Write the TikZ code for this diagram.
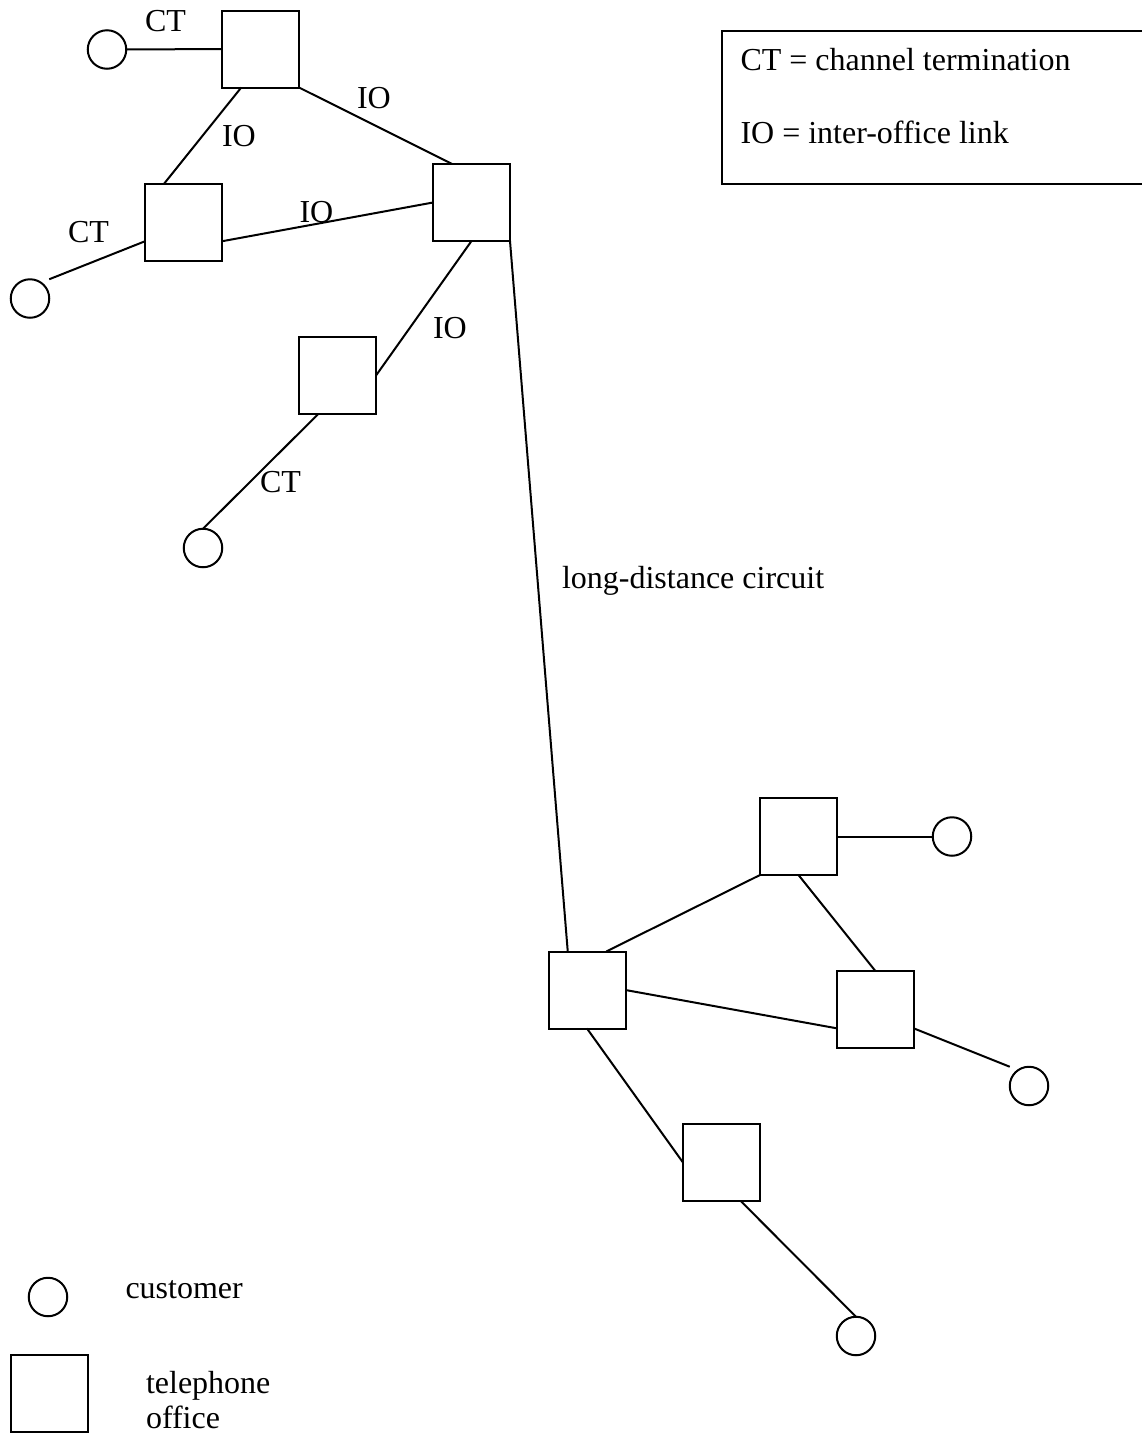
\documentclass[tikz,border=0pt]{standalone}
\usepackage{fontspec}
\setmainfont{Liberation Serif}
\usetikzlibrary{calc}
\tikzset{
  office/.style={draw, line width=2pt, minimum width=77pt, minimum height=77pt,
    inner sep=0pt, outer sep=0pt},
  customer/.style={draw, circle, line width=2pt, minimum size=38.5pt,
    inner sep=0pt, outer sep=0pt},
  link/.style={line width=2pt},
  lbl/.style={anchor=base west, inner sep=0pt, outer sep=0pt,
    font=\fontsize{32}{36.5}\selectfont},
}
\begin{document}
\begin{tikzpicture}[x=1pt, y=-1pt]
\path[use as bounding box] (0,0) rectangle (1142,1433);
\clip (0,0) rectangle (1142,1433);

% telephone offices
\node[office] (A) at (260.5,49) {};
\node[office] (B) at (183.5,222) {};
\node[office] (C) at (471.5,202.5) {};
\node[office] (D) at (337.5,375.5) {};
\node[office] (E) at (587,990) {};
\node[office] (F) at (798.5,836.5) {};
\node[office] (G) at (875,1009) {};
\node[office] (H) at (721.5,1162.5) {};

% customers
\node[customer] (cA) at (107,49.5) {};
\node[customer] (cB) at (30,298.5) {};
\node[customer] (cD) at (203,548) {};
\node[customer] (cF) at (952,836.5) {};
\node[customer] (cG) at (1029,1086) {};
\node[customer] (cH) at (856,1336) {};

% links
\draw[link] (cA.east) -- (A.west);
\draw[link] ($(A.south west)!0.25!(A.south east)$) -- ($(B.north west)!0.25!(B.north east)$);
\draw[link] (A.south east) -- ($(C.north west)!0.25!(C.north east)$);
\draw[link] ($(B.north east)!0.75!(B.south east)$) -- (C.west);
\draw[link] ($(B.north west)!0.75!(B.south west)$) -- (cB.north -| cB.east);
\draw[link] (C.south) -- (D.east);
\draw[link] ($(D.south west)!0.25!(D.south east)$) -- (cD.north);
\draw[link] (C.south east) -- ($(E.north west)!0.25!(E.north east)$);
\draw[link] ($(E.north west)!0.75!(E.north east)$) -- (F.south west);
\draw[link] (F.east) -- (cF.west);
\draw[link] (F.south) -- (G.north);
\draw[link] (E.east) -- ($(G.north west)!0.75!(G.south west)$);
\draw[link] ($(G.north east)!0.75!(G.south east)$) -- (cG.north -| cG.west);
\draw[link] (E.south) -- (H.west);
\draw[link] ($(H.south west)!0.75!(H.south east)$) -- (cH.north);

% link labels
\node[lbl] (tCTa) at (145,31.7) {CT};
\node[lbl] (tIOac) at (357,108.3) {IO};
\node[lbl] (tIOab) at (222,146.7) {IO};
\node[lbl] (tIObc) at (299.5,222.7) {IO};
\node[lbl] (tCTb) at (68,242) {CT};
\node[lbl] (tIOcd) at (433,338) {IO};
\node[lbl] (tCTd) at (260,492) {CT};
\node[lbl] (tLD) at (562,588) {long-distance circuit};

% key box
\node[draw, line width=2pt, minimum width=440pt, minimum height=153pt,
  inner sep=0pt, anchor=north west] (key) at (721,30) {};
\node[lbl] (kCT) at (740.5,70.5) {CT = channel termination};
\node[lbl] (kIO) at (740.5,143.5) {IO = inter-office link};

% symbol legend
\node[customer] (lgC) at (48,1297) {};
\node[lbl] (lgCt) at (125.5,1298) {customer};
\node[office] (lgO) at (49.5,1393) {};
\node[lbl] (lgOt1) at (146,1393) {telephone};
\node[lbl] (lgOt2) at (146,1428) {office};
\end{tikzpicture}
\end{document}
